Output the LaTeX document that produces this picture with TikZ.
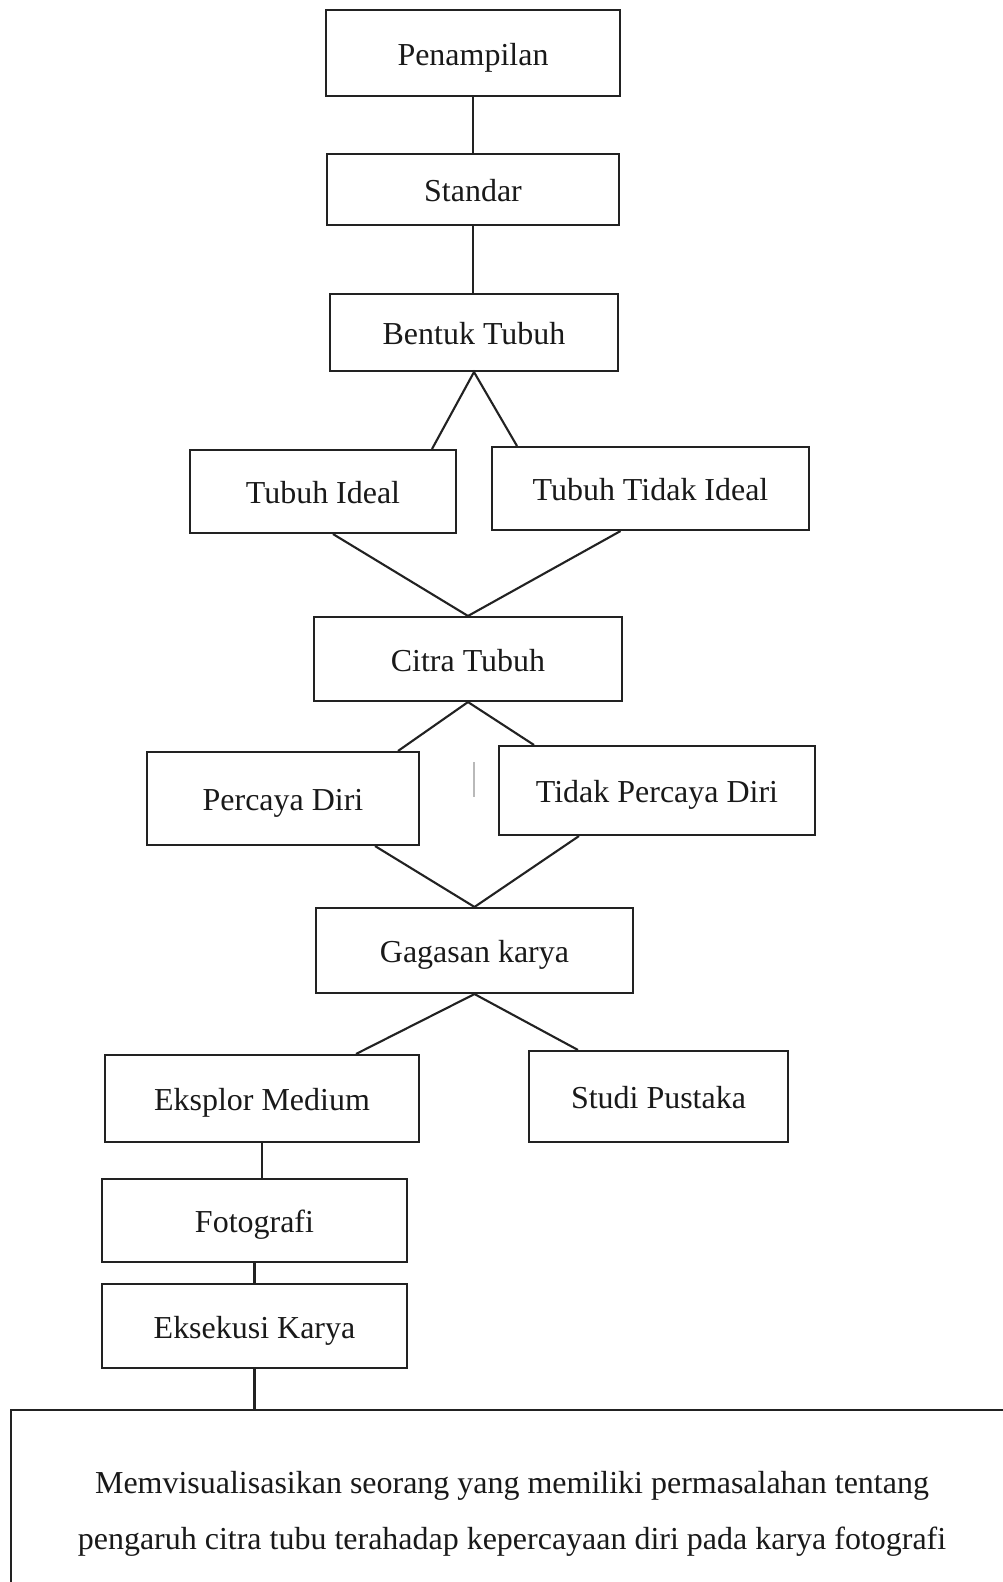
\documentclass[tikz,border=0pt]{standalone}
\usepackage{fontspec}
\setmainfont{Liberation Serif}
\usetikzlibrary{calc}
\definecolor{garis}{HTML}{222222}

\begin{document}
\begin{tikzpicture}[x=0.02cm,y=-0.02cm,
  teks/.style={draw=garis, line width=1.2pt, inner sep=0pt, align=center,
    text=black!90, font=\fontsize{18.2}{31.9}\selectfont},
  kotak/.style 2 args={teks, minimum width=#1, minimum height=#2,
    text height=18pt, text depth=3.8pt},
  hub/.style={draw=garis, line width=1.2pt}]
  % page frame (the last box runs off the page)
  \clip (0,0) rectangle (1003,1582);

  % boxes, top to bottom
  \node[kotak={5.88cm}{1.72cm}] (pen)   at (473,53)     {Penampilan};
  \node[kotak={5.84cm}{1.42cm}] (std)   at (473,189.5)  {Standar};
  \node[kotak={5.76cm}{1.54cm}] (btk)   at (474,332.5)  {Bentuk Tubuh};
  \node[kotak={5.32cm}{1.66cm}] (tid)   at (323,491.5)  {Tubuh Ideal};
  \node[kotak={6.34cm}{1.66cm}] (ttd)   at (650.5,488.5){Tubuh Tidak Ideal};
  \node[kotak={6.16cm}{1.68cm}] (citra) at (468,659)    {Citra Tubuh};
  \node[kotak={5.44cm}{1.86cm}] (pd)    at (283,798.5)  {Percaya Diri};
  \node[kotak={6.32cm}{1.78cm}] (tpd)   at (657,790.5)  {Tidak Percaya Diri};
  \node[kotak={6.34cm}{1.70cm}] (gagas) at (474.5,950.5){Gagasan karya};
  \node[kotak={6.28cm}{1.74cm}] (eks)   at (262,1098.5) {Eksplor Medium};
  \node[kotak={5.18cm}{1.82cm}] (studi) at (658.5,1096.5){Studi Pustaka};
  \node[kotak={6.10cm}{1.66cm}] (foto)  at (254.5,1220.5){Fotografi};
  \node[kotak={6.10cm}{1.68cm}] (eksek) at (254.5,1326) {Eksekusi Karya};
  \node[teks, minimum width=20.04cm, minimum height=4.16cm] (akhir) at (512,1514)
    {Memvisualisasikan seorang yang memiliki permasalahan tentang\\
     pengaruh citra tubu terahadap kepercayaan diri pada karya fotografi};

  % connectors
  \draw[hub] (pen.south) -- (pen.south |- std.north);
  \draw[hub] (std.south) -- (std.south |- btk.north);
  \draw[hub] ($(tid.north east)+(-25,0)$) -- (btk.south) -- ($(ttd.north west)+(26,0)$);
  \draw[hub] ($(tid.south)+(10,0)$) -- (citra.north) -- ($(ttd.south)+(-30,0)$);
  \draw[hub] ($(pd.north east)+(-22,0)$) -- (citra.south) -- ($(tpd.north west)+(36,0)$);
  \draw[hub] ($(pd.south east)+(-45,0)$) -- (gagas.north) -- ($(tpd.south west)+(81,0)$);
  \draw[hub] ($(eks.north east)+(-64,0)$) -- (gagas.south) -- ($(studi.north west)+(50,0)$);
  \draw[hub] (eks.south) -- (eks.south |- foto.north);
  \draw[hub] (foto.south) -- (eksek.north);
  \draw[hub] (eksek.south) -- (eksek.south |- akhir.north);

  % faint stray tick between the two middle boxes
  \draw[gray!55, line width=0.6pt] (474,762) -- (474,797);
\end{tikzpicture}
\end{document}
